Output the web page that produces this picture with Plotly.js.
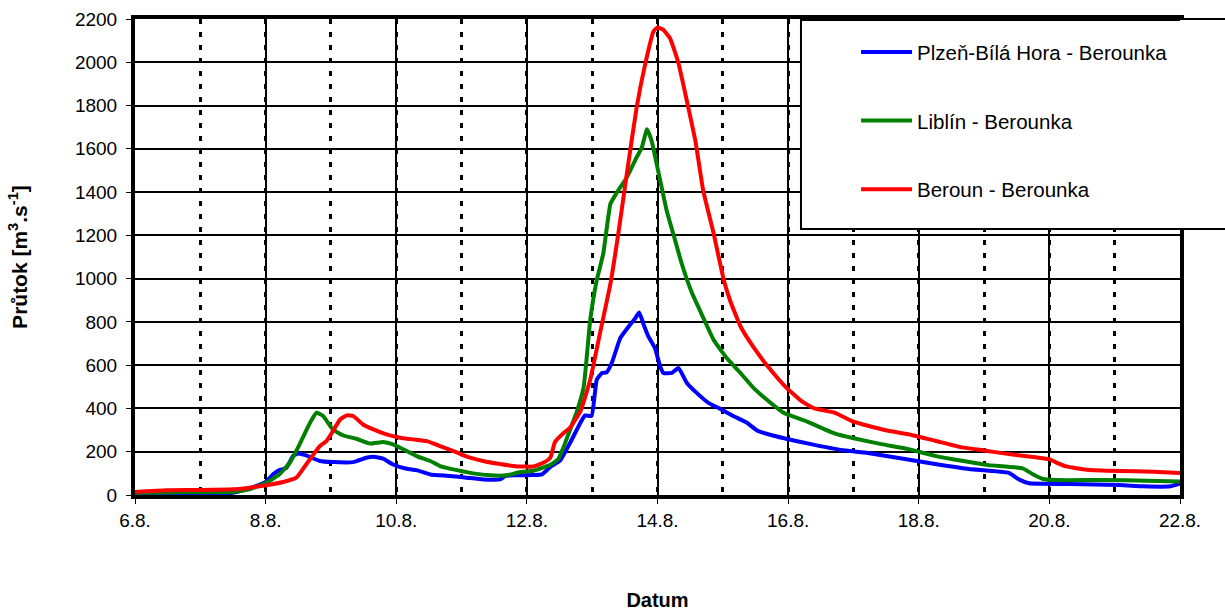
<!DOCTYPE html>
<html>
<head>
<meta charset="utf-8">
<script src="https://cdn.plot.ly/plotly-3.0.1.min.js"></script>
<style>
html,body{margin:0;padding:0;background:#fff;}
#chart{width:1225px;height:614px;}
</style>
</head>
<body>
<div id="chart"></div>
<script>
// x = day of August (6 = "6.8.")
const tickDays = [6, 8, 10, 12, 14, 16, 18, 20, 22];
const tickLabels = ["6.8.", "8.8.", "10.8.", "12.8.", "14.8.", "16.8.", "18.8.", "20.8.", "22.8."];

const seriesNames = ["Plzeň-Bílá Hora - Berounka", "Liblín - Berounka", "Beroun - Berounka"];

const plzenX = [6.0, 6.5, 7.0, 7.5, 7.7, 8.0, 8.11, 8.21, 8.32, 8.42, 8.50, 8.62, 8.83, 9.03, 9.34, 9.54, 9.65, 9.80, 9.95, 10.16, 10.31, 10.52, 10.82, 11.08, 11.33, 11.59, 11.67, 11.80, 12.10, 12.23, 12.36, 12.51, 12.66, 12.82, 12.89, 12.99, 13.07, 13.15, 13.22, 13.30, 13.43, 13.56, 13.66, 13.72, 13.79, 13.86, 13.96, 14.04, 14.09, 14.22, 14.32, 14.45, 14.60, 14.78, 14.96, 15.16, 15.37, 15.53, 15.78, 16.0, 16.35, 16.81, 17.22, 17.74, 18.25, 18.77, 19.38, 19.54, 19.69, 20.31, 21.08, 21.44, 21.85, 22.0];
const plzenY = [5, 4, 6, 10, 26, 60, 95, 115, 126, 180, 192, 183, 157, 152, 152, 172, 177, 168, 141, 121, 115, 95, 88, 80, 72, 72, 88, 91, 92, 95, 130, 160, 240, 334, 368, 365, 533, 564, 567, 610, 725, 779, 817, 843, 786, 733, 679, 595, 564, 564, 587, 518, 472, 426, 398, 365, 334, 297, 274, 258, 235, 208, 194, 169, 143, 120, 102, 71, 54, 51, 46, 40, 40, 54];

const liblinX = [6.0, 6.5, 7.0, 7.5, 7.75, 8.01, 8.21, 8.37, 8.52, 8.68, 8.78, 8.88, 9.03, 9.19, 9.39, 9.60, 9.80, 9.95, 10.11, 10.31, 10.52, 10.67, 10.93, 11.18, 11.44, 11.69, 11.90, 12.10, 12.36, 12.48, 12.56, 12.66, 12.77, 12.87, 12.97, 13.07, 13.17, 13.28, 13.38, 13.53, 13.68, 13.76, 13.84, 13.91, 14.02, 14.14, 14.27, 14.37, 14.53, 14.70, 14.86, 15.06, 15.27, 15.47, 15.67, 15.93, 16.0, 16.30, 16.71, 17.02, 17.43, 17.84, 18.25, 18.66, 19.07, 19.59, 19.74, 19.90, 20.10, 20.82, 21.49, 22.0];
const liblinY = [10, 12, 13, 14, 26, 57, 95, 149, 234, 334, 380, 365, 303, 275, 260, 238, 245, 234, 211, 180, 157, 134, 115, 100, 91, 91, 106, 112, 140, 166, 220, 300, 390, 500, 809, 993, 1116, 1346, 1399, 1468, 1560, 1606, 1690, 1637, 1484, 1315, 1177, 1070, 932, 820, 717, 633, 564, 495, 441, 380, 371, 338, 285, 261, 235, 212, 181, 158, 138, 123, 97, 74, 69, 69, 66, 62];

const berounX = [6.0, 6.48, 6.99, 7.50, 7.75, 8.01, 8.27, 8.47, 8.62, 8.83, 8.93, 9.03, 9.14, 9.24, 9.34, 9.49, 9.65, 9.85, 10.06, 10.26, 10.47, 10.67, 10.88, 11.08, 11.33, 11.59, 11.85, 12.10, 12.26, 12.36, 12.43, 12.54, 12.66, 12.82, 12.97, 13.12, 13.28, 13.40, 13.53, 13.68, 13.81, 13.94, 14.0, 14.09, 14.19, 14.32, 14.45, 14.58, 14.70, 14.86, 15.01, 15.11, 15.27, 15.47, 15.70, 15.96, 16.20, 16.40, 16.71, 16.97, 17.22, 17.53, 17.84, 18.25, 18.66, 19.02, 19.38, 19.79, 20.0, 20.10, 20.26, 20.57, 21.08, 21.59, 22.0];
const berounY = [14, 22, 23, 26, 34, 45, 60, 80, 141, 226, 249, 295, 349, 368, 365, 326, 303, 280, 265, 257, 249, 226, 203, 177, 157, 143, 132, 132, 150, 173, 245, 280, 311, 388, 533, 748, 978, 1208, 1484, 1790, 1989, 2143, 2161, 2150, 2112, 1997, 1821, 1637, 1407, 1208, 1000, 900, 780, 683, 590, 500, 435, 400, 381, 343, 320, 297, 281, 251, 220, 205, 189, 174, 166, 151, 132, 117, 111, 108, 102];

const colors = ["#0000FF", "#008000", "#FF0000"];
const FONT = "Liberation Sans, Arial, sans-serif";

function trace(x, y, i) {
  return {
    x: x, y: y, name: seriesNames[i], type: "scatter", mode: "lines",
    legendgroup: "g" + i,
    line: {color: colors[i], width: 4, shape: "spline", smoothing: 0.4}
  };
}

const data = [trace(plzenX, plzenY, 0), trace(liblinX, liblinY, 1), trace(berounX, berounY, 2)];

const layout = {
  width: 1225, height: 614,
  margin: {l: 135, r: 45, t: 19, b: 119},
  paper_bgcolor: "#fff", plot_bgcolor: "#fff",
  font: {family: FONT, color: "#000", size: 19},
  showlegend: true,
  legend: {
    x: 0.690, y: 0.9724, xanchor: "left", yanchor: "top",
    bgcolor: "rgba(0,0,0,0)", borderwidth: 0,
    font: {family: FONT, size: 20.5, color: "#000"},
    traceorder: "grouped", tracegroupgap: 39, itemwidth: 51
  },
  xaxis: {
    range: [6, 22], tickmode: "array", tickvals: tickDays, ticktext: tickLabels,
    showline: true, linecolor: "#000", linewidth: 4, mirror: true,
    showgrid: true, gridcolor: "#000", gridwidth: 2,
    ticks: "outside", ticklen: 5, tickwidth: 1, tickcolor: "#000",
    ticklabelstandoff: 0,
    minor: {dtick: 1, tick0: 6, showgrid: true, gridcolor: "#000", gridwidth: 3, griddash: "5px,8px"},
    zeroline: false,
    title: {text: "<b>Datum</b>", font: {family: FONT, size: 20}, standoff: 64}
  },
  yaxis: {
    range: [0, 2200], dtick: 200, tick0: 0,
    showline: true, linecolor: "#000", linewidth: 4, mirror: true,
    showgrid: true, gridcolor: "#000", gridwidth: 2,
    ticks: "outside", ticklen: 5, tickwidth: 1, tickcolor: "#000",
    ticklabelstandoff: 5,
    zeroline: false,
    title: {text: "<b>Průtok [m<sup>3</sup>.s<sup>-1</sup>]</b>", font: {family: FONT, size: 21}, standoff: 43}
  },
  shapes: [
    {type: "rect", xref: "paper", yref: "paper", x0: 0.6373, x1: 1.05, y0: 0.5588, y1: 1.0,
     fillcolor: "#fff", line: {color: "#000", width: 2}, layer: "above"},
    {type: "line", xref: "paper", yref: "paper", x0: 0.6373, x1: 1.0, y0: 1.0, y1: 1.0,
     line: {color: "#000", width: 4}, layer: "above"}
  ]
};

Plotly.newPlot("chart", data, layout, {displayModeBar: false, staticPlot: true});
</script>
</body>
</html>
